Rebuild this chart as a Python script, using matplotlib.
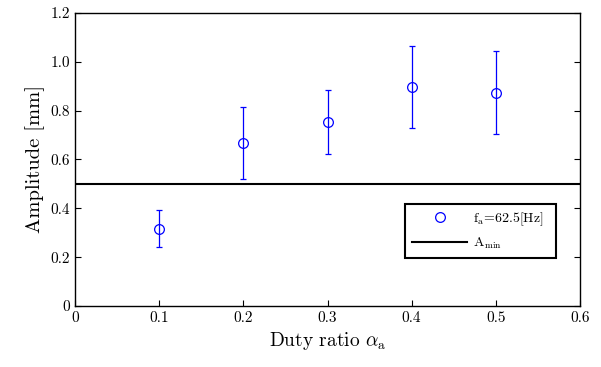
import numpy as np
import matplotlib
matplotlib.use('Agg')
import matplotlib.pyplot as plt

# data
duty = [0.1, 0.2, 0.3, 0.4, 0.5]
amp = [0.316, 0.668, 0.754, 0.898, 0.873]
err = [0.076, 0.148, 0.131, 0.168, 0.170]
a_min = 0.5

xticks = [0, 0.1, 0.2, 0.3, 0.4, 0.5, 0.6]
xticklabels = ['0', '0.1', '0.2', '0.3', '0.4', '0.5', '0.6']
yticks = [0, 0.2, 0.4, 0.6, 0.8, 1.0, 1.2]
yticklabels = ['0', '0.2', '0.4', '0.6', '0.8', '1.0', '1.2']

plt.rcParams['font.family'] = 'serif'
plt.rcParams['font.serif'] = ['cmr10', 'DejaVu Serif']
plt.rcParams['mathtext.fontset'] = 'cm'

fig = plt.figure(figsize=(6.01, 3.67), dpi=100)
ax = fig.add_axes([0.125, 0.166, 0.840, 0.799])

eb = ax.errorbar(duty, amp, yerr=err, fmt='o', color='blue', mfc='none', mec='blue',
                 ms=7, mew=0.9, elinewidth=0.9, capsize=2.5, capthick=0.9)
hline = ax.axhline(a_min, color='black', lw=1.5)

ax.set_xlim(0, 0.6)
ax.set_ylim(0, 1.2)
ax.set_xticks(xticks)
ax.set_xticklabels(xticklabels)
ax.set_yticks(yticks)
ax.set_yticklabels(yticklabels)
ax.tick_params(direction='in', top=False, right=True, length=4, labelsize=11)
for s in ax.spines.values():
    s.set_linewidth(1.0)

ax.set_xlabel(r'Duty ratio $\alpha_{\rm a}$', fontsize=14)
ax.set_ylabel('Amplitude [mm]', fontsize=14.8)

# legend: marker only for the data (no error bar glyph)
leg = ax.legend([eb[0], hline], [r'f$_{\rm a}$=62.5[Hz]', r'A$_{\rm min}$'],
                loc='lower left', bbox_to_anchor=(0.653, 0.164, 0.299, 0.174),
                mode='expand', fontsize=10, fancybox=False, framealpha=1,
                edgecolor='black', handlelength=4.0, borderpad=0.5,
                labelspacing=0.55, borderaxespad=0, handletextpad=0.4)
leg.get_frame().set_linewidth(1.5)

fig.savefig('out.png', dpi=100)
